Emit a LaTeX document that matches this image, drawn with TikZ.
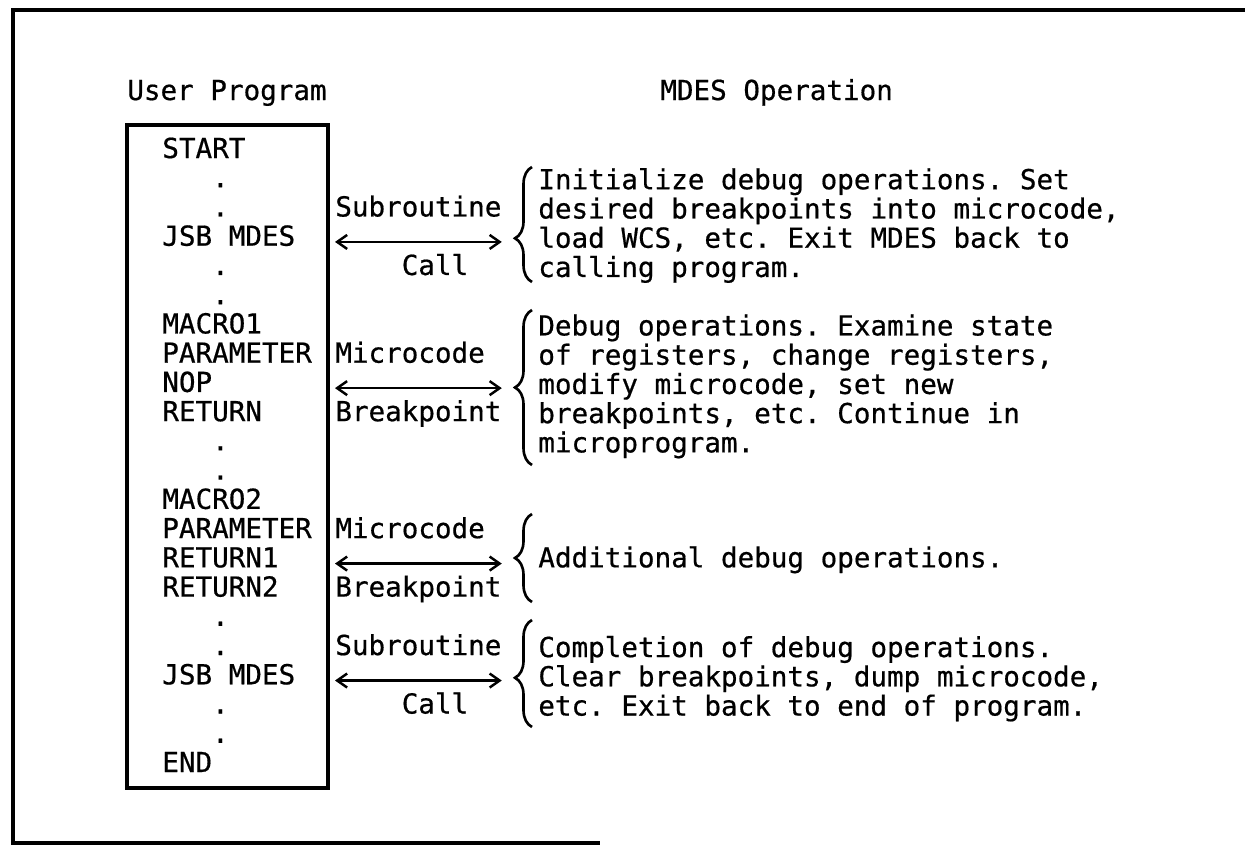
\documentclass[tikz,border=0pt]{standalone}
\usepackage{fontspec}
\newfontfamily\plotfont[FakeBold=0.6]{DejaVu Sans Mono}
\usetikzlibrary{positioning,arrows.meta,decorations.pathreplacing}
\newcommand{\progdot}{\hphantom{000}.}

\begin{document}
\begin{tikzpicture}[x=0.02cm,y=-0.02cm,
    txt/.style={font=\plotfont\fontsize{15.7}{18}\selectfont\frenchspacing,inner sep=0pt,anchor=base west},
    frm/.style={line width=1.8pt},
    dbl/.style={line width=1.4pt,{Straight Barb[length=2mm,width=2.8mm]}-{Straight Barb[length=2mm,width=2.8mm]}},
    brc/.style={line width=1.5pt,decorate,decoration={brace,amplitude=0.34cm}}]
	\useasboundingbox (0,0) rectangle (1245,845);
	% outer frame
	\draw[frm] (1245,10) -- (13,10) -- (13,843) -- (600,843);
	% headings
	\node[txt] (uprog) at (127,100) {User Program};
	\node[txt] (mdesop) at (660,100) {MDES Operation};
	% program listing
	\node[draw,frm,inner sep=0pt,minimum width=4.02cm,minimum height=13.26cm] (box) at (227.5,456.5) {};
	\foreach \t [count=\k from 0] in {START,\progdot,\progdot,JSB MDES,\progdot,\progdot,MACRO1,PARAMETER,NOP,RETURN,\progdot,\progdot,MACRO2,PARAMETER,RETURN1,RETURN2,\progdot,\progdot,JSB MDES,\progdot,\progdot,END}
		\node[txt] (l\k) at (162,{158+29.24*\k}) {\t};
	% labels beside the listing
	\node[txt] (sub1) at (335,{158+29.24*2}) {Subroutine};
	\node[txt] (call1) at (401.4,{158+29.24*4}) {Call};
	\node[txt] (mc1) at (335,{158+29.24*7}) {Microcode};
	\node[txt] (bp1) at (335,{158+29.24*9}) {Breakpoint};
	\node[txt] (mc2) at (335,{158+29.24*13}) {Microcode};
	\node[txt] (bp2) at (335,{158+29.24*15}) {Breakpoint};
	\node[txt] (sub2) at (335,{158+29.24*17}) {Subroutine};
	\node[txt] (call2) at (401.4,{158+29.24*19}) {Call};
	\draw[dbl] (sub1.west |- l3.mid) -- (sub1.east |- l3.mid);
	\draw[dbl] (bp1.west |- l8.mid) -- (bp1.east |- l8.mid);
	\draw[dbl] (bp2.west |- l14.mid) -- (bp2.east |- l14.mid);
	\draw[dbl] (sub2.west |- l18.mid) -- (sub2.east |- l18.mid);
	% MDES operations
	\foreach \t [count=\k from 1] in {Initialize debug operations. Set,{desired breakpoints into microcode,},{load WCS, etc. Exit MDES back to},calling program.}
		\node[txt] (d\k) at (538,{160+29.24*\k}) {\t};
	\foreach \t [count=\k from 6] in {Debug operations. Examine state,{of registers, change registers,},{modify microcode, set new},{breakpoints, etc. Continue in},microprogram.}
		\node[txt] (d\k) at (538,{160+29.24*\k}) {\t};
	\node[txt] (d14) at (538,{158+29.24*14}) {Additional debug operations.};
	\foreach \t [count=\k from 17] in {Completion of debug operations.,{Clear breakpoints, dump microcode,},etc. Exit back to end of program.}
		\node[txt] (d\k) at (538,{160+29.24*\k}) {\t};
	% braces
	\coordinate (b1s) at (532,282);
	\coordinate (b1e) at (532,167);
	\coordinate (b2s) at (532,465);
	\coordinate (b2e) at (532,310);
	\coordinate (b3s) at (532,602);
	\coordinate (b3e) at (532,514);
	\coordinate (b4s) at (532,727);
	\coordinate (b4e) at (532,620);
	\draw[brc,decoration={aspect=0.38}] (b1s) -- (b1e);
	\draw[brc] (b2s) -- (b2e);
	\draw[brc] (b3s) -- (b3e);
	\draw[brc,decoration={aspect=0.46}] (b4s) -- (b4e);
\end{tikzpicture}
\end{document}
